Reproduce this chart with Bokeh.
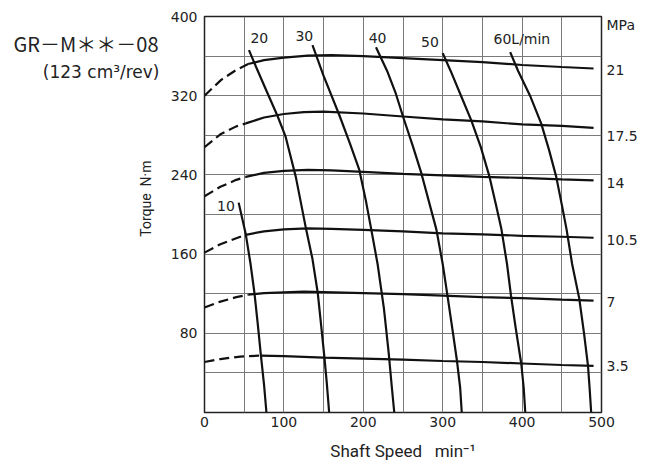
from bokeh.plotting import figure
from bokeh.models import FixedTicker, Label, Range1d, LinearAxis
from bokeh.embed import file_html
from bokeh.resources import INLINE

# ---------------- data ----------------
x_tick_values = [0, 100, 200, 300, 400, 500]
y_tick_values = [80, 160, 240, 320, 400]
x_grid_values = [50, 100, 150, 200, 250, 300, 350, 400, 450]
y_grid_values = [40, 80, 120, 160, 200, 240, 280, 320, 360]

pressure_names = ["MPa", "21", "17.5", "14", "10.5", "7", "3.5"]
pressure_label_y = [391, 346, 279, 232, 174, 112, 47]

title_text = "GR－M＊＊－08"
subtitle_text = "(123 cm³/rev)"
y_title_text = "Torque\u00a0\u00a0N·m"
x_title_text = "Shaft Speed\u00a0\u00a0\u00a0min⁻¹"
title_y = 373
subtitle_y = 344
y_title_pos = 216

# torque curves (speed, torque): dashed low-speed part and solid part
p21_dash_x = [0, 21, 40, 55]
p21_dash_y = [320, 336, 346, 352]
p21_x = [55, 75, 100, 130, 160, 200, 250, 300, 350, 400, 450, 490]
p21_y = [352, 356, 358.5, 360.5, 361, 360, 358, 356, 354, 351, 349, 347.5]

p175_dash_x = [0, 20, 40, 52]
p175_dash_y = [268, 281, 289, 292]
p175_x = [52, 75, 100, 125, 150, 200, 250, 300, 350, 400, 450, 490]
p175_y = [292, 298, 301.5, 303.5, 304, 302, 299, 296, 294, 291, 289.5, 287.5]

p14_dash_x = [0, 20, 40, 52]
p14_dash_y = [218.5, 228, 235, 238]
p14_x = [52, 75, 100, 130, 160, 200, 250, 300, 350, 400, 450, 490]
p14_y = [238, 242, 244, 245, 244.5, 243, 241, 239.5, 238, 237, 235.5, 234.5]

p105_dash_x = [0, 20, 40, 52]
p105_dash_y = [161.5, 170, 176, 179.5]
p105_x = [52, 75, 100, 130, 160, 200, 250, 300, 350, 400, 450, 490]
p105_y = [179.5, 183, 185, 186, 185.5, 184.5, 183, 181, 180, 178.5, 177.5, 176.5]

p7_dash_x = [0, 20, 40, 55]
p7_dash_y = [106, 112, 116.5, 119]
p7_x = [55, 75, 100, 125, 150, 200, 250, 300, 350, 400, 450, 490]
p7_y = [119, 120.5, 121.3, 122, 121.5, 120.5, 119.5, 118, 116.5, 115.5, 114, 113]

p35_dash_x = [0, 20, 45, 70]
p35_dash_y = [51, 54, 56.5, 57.5]
p35_x = [70, 100, 150, 200, 250, 300, 350, 400, 450, 490]
p35_y = [57.5, 57, 55.5, 54.5, 53.5, 52, 51, 49.5, 48, 47]

# flow curves (speed, torque)
f10_x = [43, 52, 58, 63, 67, 71, 75, 78]
f10_y = [212, 180, 150, 120, 90, 58, 28, 0]
f20_x = [56, 65, 78, 92, 102, 115, 128, 136, 142.6, 146, 151, 154, 157]
f20_y = [366, 349, 325, 299.5, 279, 238, 185, 155, 121, 95, 56, 30, 0]
f30_x = [136, 150, 170, 183, 195, 203, 210, 218, 226, 232, 236, 239]
f30_y = [371, 340, 300, 272, 245, 215, 185, 150, 105, 60, 25, 0]
f40_x = [216, 230, 241, 250, 262, 273, 283, 292, 300, 306, 313, 318, 322, 324]
f40_y = [369, 345, 322, 299, 270, 242, 212, 185, 150, 118, 80, 52, 25, 0]
f50_x = [300, 310, 322, 336, 348, 359, 367, 374, 381, 386, 392, 399, 402, 404]
f50_y = [363, 345, 322, 295, 268, 238, 210, 185, 150, 118, 85, 49, 25, 0]
f60_x = [385, 395, 410, 424, 434, 443, 450, 456, 463, 472, 478, 483, 485, 487]
f60_y = [364, 345, 320, 292, 265, 238, 210, 185, 150, 115, 80, 47, 25, 0]

flow_names = ["10", "20", "30", "40", "50", "60L/min"]

# ---------------- figure ----------------
txt = "#222222"
p = figure(width=658, height=463, x_range=Range1d(0, 500), y_range=Range1d(0, 400),
           output_backend="svg", toolbar_location=None,
           min_border_left=204, min_border_right=57, min_border_top=16, min_border_bottom=49)
p.background_fill_color = "white"
p.border_fill_color = "white"
p.outline_line_color = "#222222"
p.outline_line_width = 1.5


def bare(ax):
    ax.axis_line_color = None
    ax.major_tick_line_color = None
    ax.minor_tick_line_color = None
    ax.major_tick_out = 0
    ax.major_tick_in = 0
    ax.minor_tick_out = 0
    ax.minor_tick_in = 0
    ax.major_label_text_color = txt


p.xaxis.ticker = FixedTicker(ticks=x_tick_values)
p.yaxis.ticker = FixedTicker(ticks=y_tick_values)
for ax in (p.xaxis[0], p.yaxis[0]):
    bare(ax)
    ax.major_label_text_font = "DejaVu Sans"
    ax.major_label_text_font_size = "14px"
p.xaxis.major_label_standoff = 4
p.xaxis.axis_label = x_title_text
p.xaxis.axis_label_standoff = 11
p.xaxis.axis_label_text_font = "Roboto"
p.xaxis.axis_label_text_font_size = "17px"
p.xaxis.axis_label_text_font_style = "normal"
p.xaxis.axis_label_text_color = txt
p.yaxis.major_label_standoff = 7

# y title as a rotated label on its own left axis
ytitle_axis = LinearAxis(ticker=FixedTicker(ticks=[y_title_pos]),
                         major_label_overrides={y_title_pos: y_title_text},
                         major_label_orientation="vertical")
bare(ytitle_axis)
ytitle_axis.major_label_text_font = "Roboto"
ytitle_axis.major_label_text_font_size = "14px"
ytitle_axis.major_label_standoff = 13
p.add_layout(ytitle_axis, "left")

# model name on an outer left axis
title_axis = LinearAxis(ticker=FixedTicker(ticks=[title_y]),
                        major_label_overrides={title_y: title_text})
bare(title_axis)
title_axis.major_label_text_font = "Noto Sans CJK JP"
title_axis.major_label_text_font_size = "20px"
title_axis.major_label_standoff = -23
p.add_layout(title_axis, "left")

# displacement on a further left axis
sub_axis = LinearAxis(ticker=FixedTicker(ticks=[subtitle_y]),
                      major_label_overrides={subtitle_y: subtitle_text})
bare(sub_axis)
sub_axis.major_label_text_font = "DejaVu Sans"
sub_axis.major_label_text_font_size = "17px"
sub_axis.major_label_standoff = -149
p.add_layout(sub_axis, "left")

# pressure labels on a right axis
right_axis = LinearAxis(ticker=FixedTicker(ticks=pressure_label_y),
                        major_label_overrides={v: n for v, n in zip(pressure_label_y, pressure_names)})
bare(right_axis)
right_axis.major_label_text_font = "DejaVu Sans"
right_axis.major_label_text_font_size = "14px"
right_axis.major_label_standoff = 5
p.add_layout(right_axis, "right")

p.xgrid.ticker = FixedTicker(ticks=x_grid_values)
p.ygrid.ticker = FixedTicker(ticks=y_grid_values)
p.grid.grid_line_color = "#7a7a7a"
p.grid.grid_line_width = 1
p.grid.grid_line_alpha = 1

lc = "#111111"
lw = 2.2
dash_sets = [(p21_dash_x, p21_dash_y), (p175_dash_x, p175_dash_y), (p14_dash_x, p14_dash_y),
             (p105_dash_x, p105_dash_y), (p7_dash_x, p7_dash_y), (p35_dash_x, p35_dash_y)]
solid_sets = [(p21_x, p21_y), (p175_x, p175_y), (p14_x, p14_y),
              (p105_x, p105_y), (p7_x, p7_y), (p35_x, p35_y)]
for xs, ys in dash_sets:
    p.line(xs, ys, line_color=lc, line_width=lw, line_dash="10 5")
for xs, ys in solid_sets:
    p.line(xs, ys, line_color=lc, line_width=lw)

flow_sets = [(f10_x, f10_y), (f20_x, f20_y), (f30_x, f30_y),
             (f40_x, f40_y), (f50_x, f50_y), (f60_x, f60_y)]
for xs, ys in flow_sets:
    p.line(xs, ys, line_color=lc, line_width=lw)

# flow labels
flow_label_pos = [(27, 209, "center"), (69, 378, "center"), (125.7, 380, "center"),
                  (218, 378.6, "center"), (284, 374, "center"), (364, 377.5, "left")]
for name, (lx, ly, al) in zip(flow_names, flow_label_pos):
    p.add_layout(Label(x=lx, y=ly, text=name, text_align=al, text_baseline="middle",
                       text_font="DejaVu Sans", text_font_size="14px", text_color=txt))

open("out.html", "w").write(file_html(p, INLINE))
